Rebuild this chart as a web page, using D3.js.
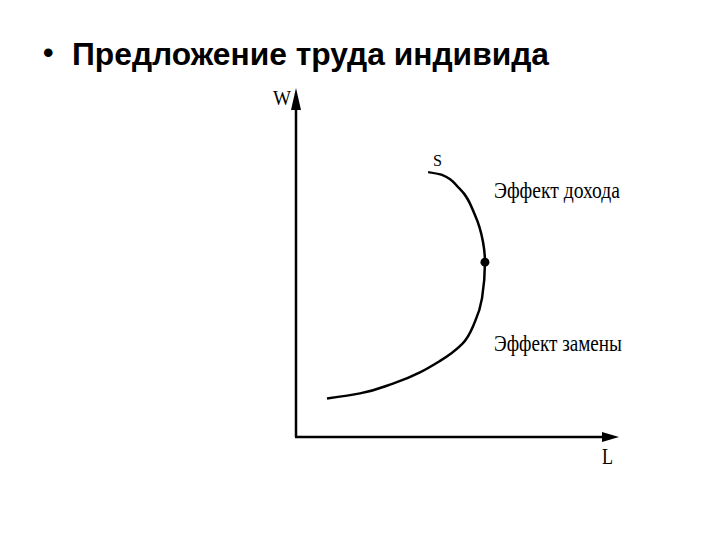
<!DOCTYPE html>
<html>
<head>
<meta charset="utf-8">
<script src="https://cdn.jsdelivr.net/npm/d3@7"></script>
<style>
  body { margin: 0; background: #fff; }
</style>
</head>
<body>
<svg id="chart" width="720" height="540"></svg>
<script>
// labour supply curve S (L = hours of labour, W = wage)
let curveL = [9.6, 19.8, 30.0, 44.6, 51.4, 55.4, 57.6, 58.5, 57.9, 55.4, 50.5, 45.2, 40.9]
let curveW = [11.0, 12.5, 15.3, 21.8, 26.6, 33.0, 39.8, 50.1, 55.9, 63.6, 71.3, 75.1, 75.9]
let pivot = {L: 58.5, W: 50.1}
let title = 'Предложение труда индивида'
let effectLabels = ['Эффект дохода', 'Эффект замены']

let margin = {left: 296, right: 101, top: 88, bottom: 103}
let width = 720, height = 540

const svg = d3.select('#chart')

// title
svg.append('text')
  .attr('x', 43).attr('y', 63)
  .style('font', 'bold 30px "Liberation Sans", Arial, sans-serif')
  .text('•')
svg.append('text')
  .attr('x', 72).attr('y', 65)
  .attr('textLength', 477)
  .attr('lengthAdjust', 'spacingAndGlyphs')
  .style('font', 'bold 31px "Liberation Sans", Arial, sans-serif')
  .text(title)

let x = d3.scaleLinear()
  .domain([0, 100])
  .range([margin.left, width - margin.right])
let y = d3.scaleLinear()
  .domain([0, 100])
  .range([height - margin.bottom, margin.top])

// axes with arrowheads
let axisG = svg.append('g')
axisG.append('line')
  .attr('x1', x(0)).attr('y1', y(0))
  .attr('x2', x(0)).attr('y2', y(100) + 16)
  .attr('stroke', '#000').attr('stroke-width', 2.5)
axisG.append('line')
  .attr('x1', x(0) - 1).attr('y1', y(0))
  .attr('x2', x(100) - 14).attr('y2', y(0))
  .attr('stroke', '#000').attr('stroke-width', 2.5)
axisG.append('path')
  .attr('d', `M${x(0)},${y(100)} L${x(0) - 5},${y(100) + 22} L${x(0) + 5},${y(100) + 22} Z`)
  .attr('fill', '#000')
axisG.append('path')
  .attr('d', `M${x(100)},${y(0)} L${x(100) - 17},${y(0) - 5} L${x(100) - 17},${y(0) + 5} Z`)
  .attr('fill', '#000')

// condensed serif labels, as in the slide
const serif = '"Liberation Serif", "Times New Roman", serif'
svg.append('text')
  .attr('x', x(0) - 23).attr('y', y(100) + 17)
  .attr('textLength', 18)
  .attr('lengthAdjust', 'spacingAndGlyphs')
  .style('font', `22px ${serif}`)
  .text('W')
svg.append('text')
  .attr('x', x(100) - 17).attr('y', y(0) + 27)
  .attr('textLength', 11)
  .attr('lengthAdjust', 'spacingAndGlyphs')
  .style('font', `23px ${serif}`)
  .text('L')

// supply curve: W rises along the whole curve, so interpolate L as a function of W
let points = curveL.map((d, i) => [x(d), y(curveW[i])])
svg.append('path')
  .datum(points)
  .attr('fill', 'none')
  .attr('stroke', '#000')
  .attr('stroke-width', 2.5)
  .attr('d', d3.line().curve(d3.curveMonotoneY))

svg.append('circle')
  .attr('cx', x(pivot.L)).attr('cy', y(pivot.W))
  .attr('r', 4.5)
  .attr('fill', '#000')

svg.append('text')
  .attr('x', x(curveL[curveL.length - 1]) + 5).attr('y', y(curveW[curveW.length - 1]) - 6)
  .attr('textLength', 9)
  .attr('lengthAdjust', 'spacingAndGlyphs')
  .style('font', `16px ${serif}`)
  .text('S')

svg.selectAll('.effect')
  .data(effectLabels)
  .join('text')
  .attr('class', 'effect')
  .attr('x', 494)
  .attr('y', (d, i) => i === 0 ? 198 : 351)
  .attr('textLength', (d, i) => i === 0 ? 126 : 128)
  .attr('lengthAdjust', 'spacingAndGlyphs')
  .style('font', `24px ${serif}`)
  .text(d => d)
</script>
</body>
</html>
